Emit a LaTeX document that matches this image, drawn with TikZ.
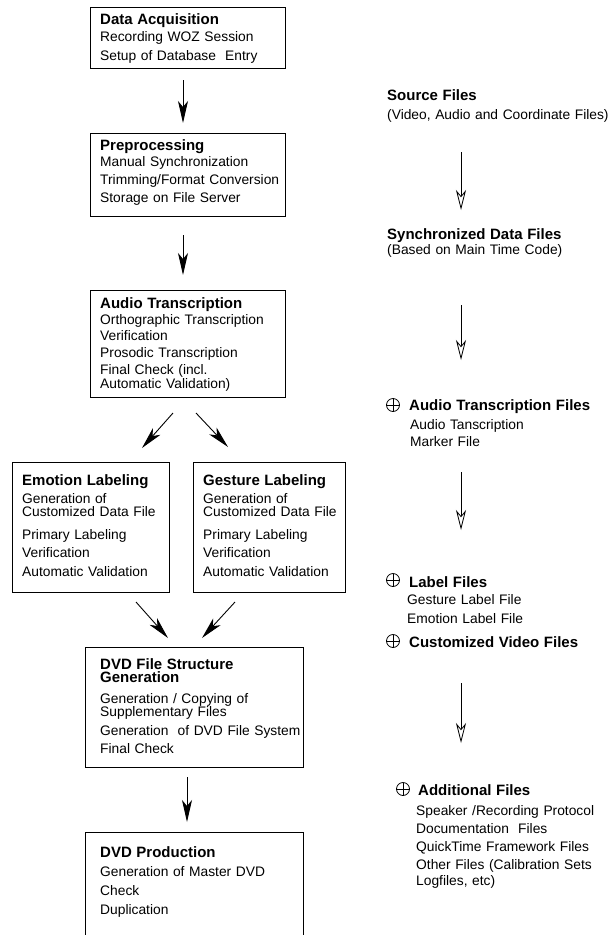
\documentclass[tikz,border=0pt]{standalone}
\usepackage{fontspec}
\setmainfont{Liberation Sans}
\usetikzlibrary{arrows.meta}

\newcommand{\stagehead}[1]{{\fontsize{15}{13}\selectfont\bfseries #1}}

\tikzset{
	stage/.style={draw, line width=0.9pt, anchor=north west, inner sep=0pt},
	stagetext/.style={anchor=base west, align=left, inner sep=0pt, text width=230pt, font=\fontsize{13.8}{13}\selectfont},
	flow/.style={line width=0.9pt, -{Stealth[length=22pt, width=10pt, inset=6pt]}},
	fileflow/.style={line width=0.8pt, -{Stealth[open, length=20pt, width=10pt, inset=6pt]}},
	fileplus/.style={circle, draw, line width=0.8pt, inner sep=0pt, minimum size=13pt,
		path picture={\draw[line width=0.8pt] (path picture bounding box.north) -- (path picture bounding box.south)
			(path picture bounding box.west) -- (path picture bounding box.east);}}
}

\begin{document}
\begin{tikzpicture}[x=1pt, y=-1pt]
	\useasboundingbox (0,0) rectangle (611,935);

	% processing stages
	\node[stage, minimum width=195pt, minimum height=61pt] (acq) at (90,7) {};
	\node[stagetext] (acqt) at (100,24.5) {\stagehead{Data Acquisition}\\[2.5pt]
		Recording WOZ Session\\[6.5pt]
		Setup of Database\ \ Entry};

	\node[stage, minimum width=195pt, minimum height=83pt] (prep) at (90,133) {};
	\node[stagetext] (prept) at (100,150) {\stagehead{Preprocessing}\\[2pt]
		Manual Synchronization\\[5pt]
		Trimming/Format Conversion\\[5pt]
		Storage on File Server};

	\node[stage, minimum width=195pt, minimum height=107pt] (aud) at (90,290) {};
	\node[stagetext] (audt) at (100,308) {\stagehead{Audio Transcription}\\[2pt]
		Orthographic Transcription\\[3pt]
		Verification\\[4pt]
		Prosodic Transcription\\[4pt]
		Final Check (incl.\\[1pt]
		Automatic Validation)};

	\node[stage, minimum width=157pt, minimum height=130pt] (emo) at (12,462) {};
	\node[stagetext] (emot) at (22,485) {\stagehead{Emotion Labeling}\\[4pt]
		Generation of\\[0pt]
		Customized Data File\\[10pt]
		Primary Labeling\\[5pt]
		Verification\\[6pt]
		Automatic Validation};

	\node[stage, minimum width=152pt, minimum height=130pt] (ges) at (193,462) {};
	\node[stagetext] (gest) at (203,485) {\stagehead{Gesture Labeling}\\[4pt]
		Generation of\\[0pt]
		Customized Data File\\[10pt]
		Primary Labeling\\[5pt]
		Verification\\[6pt]
		Automatic Validation};

	\node[stage, minimum width=218pt, minimum height=120pt] (dvds) at (85,647) {};
	\node[stagetext] (dvdst) at (100,669) {\stagehead{DVD File Structure}\\[0.5pt]
		\stagehead{Generation}\\[7.5pt]
		Generation / Copying of\\[0pt]
		Supplementary Files\\[6pt]
		Generation\ \ of DVD File System\\[5pt]
		Final Check};

	\node[stage, minimum width=218pt, minimum height=115pt] (dvdp) at (85,832) {};
	\node[stagetext] (dvdpt) at (100,857) {\stagehead{DVD Production}\\[6pt]
		Generation of Master DVD\\[6pt]
		Check\\[6pt]
		Duplication};

	% file states
	\node[stagetext] (src) at (387,100) {\stagehead{Source Files}\\[6pt]
		(Video, Audio and Coordinate Files)};
	\node[stagetext] (sync) at (387,239) {\stagehead{Synchronized Data Files}\\[1pt]
		(Based on Main Time Code)};
	\node[fileplus] (pa) at (393,405) {};
	\node[stagetext] (audf) at (409,410) {\stagehead{Audio Transcription Files}\\[5pt]
		\hspace*{1pt}Audio Tanscription\\[4pt]
		\hspace*{1pt}Marker File};
	\node[fileplus] (pl) at (393,580) {};
	\node[stagetext] (labf) at (409,587) {\stagehead{Label Files}\\[4pt]
		\hspace*{-2pt}Gesture Label File\\[6pt]
		\hspace*{-2pt}Emotion Label File};
	\node[fileplus] (pv) at (393,641) {};
	\node[stagetext] (vidf) at (409,647) {\stagehead{Customized Video Files}};
	\node[fileplus] (pd) at (403,789) {};
	\node[stagetext] (addf) at (418,795) {\stagehead{Additional Files}\\[7pt]
		\hspace*{-2pt}Speaker /Recording Protocol\\[5pt]
		\hspace*{-2pt}Documentation\ \ Files\\[5pt]
		\hspace*{-2pt}QuickTime Framework Files\\[5pt]
		\hspace*{-2pt}Other Files (Calibration Sets\\[3pt]
		\hspace*{-2pt}Logfiles, etc)};

	% arrow ends
	\coordinate (f1a) at (183,80);   \coordinate (f1b) at (183,123);
	\coordinate (f2a) at (183,235);  \coordinate (f2b) at (183,275);
	\coordinate (f3a) at (173,413);  \coordinate (f3b) at (142,448);
	\coordinate (f4a) at (196,413);  \coordinate (f4b) at (228,447);
	\coordinate (f5a) at (136,602);  \coordinate (f5b) at (168,638);
	\coordinate (f6a) at (235,602);  \coordinate (f6b) at (202,638);
	\coordinate (f7a) at (187,777);  \coordinate (f7b) at (187,822);
	\coordinate (s1a) at (461,152);  \coordinate (s1b) at (461,210);
	\coordinate (s2a) at (461,305);  \coordinate (s2b) at (461,360);
	\coordinate (s3a) at (461,472);  \coordinate (s3b) at (461,530);
	\coordinate (s4a) at (461,683);  \coordinate (s4b) at (461,743);

	\foreach \a/\b in {f1a/f1b, f2a/f2b, f3a/f3b, f4a/f4b, f5a/f5b, f6a/f6b, f7a/f7b}
		\draw[flow] (\a) -- (\b);
	\foreach \a/\b in {s1a/s1b, s2a/s2b, s3a/s3b, s4a/s4b}
		\draw[fileflow] (\a) -- (\b);
\end{tikzpicture}
\end{document}
